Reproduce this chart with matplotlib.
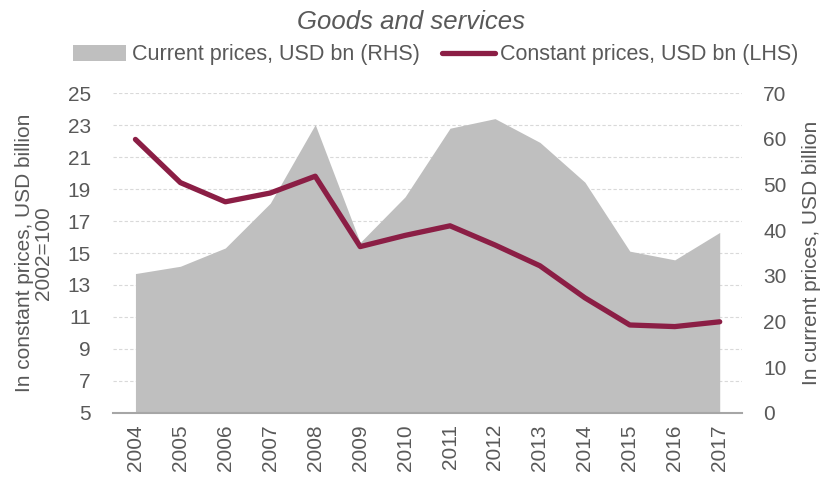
import numpy as np
import matplotlib.pyplot as plt
from matplotlib.patches import Patch
from matplotlib.lines import Line2D

plt.rcParams['font.family'] = ['Liberation Sans', 'DejaVu Sans']

years = ['2004', '2005', '2006', '2007', '2008', '2009', '2010',
         '2011', '2012', '2013', '2014', '2015', '2016', '2017']
# constant prices, USD bn (left axis)
constant = [22.1, 19.4, 18.2, 18.75, 19.8, 15.4, 16.1,
            16.7, 15.5, 14.2, 12.2, 10.5, 10.4, 10.7]
# current prices, USD bn (right axis)
current = [30.5, 32.1, 36.1, 45.9, 63.1, 37.3, 47.3,
           62.3, 64.4, 59.2, 50.5, 35.4, 33.5, 39.5]

txt = '#595959'
maroon = '#8B1E45'
grey = '#BFBFBF'
fs = 15

fig = plt.figure(figsize=(8.21, 4.82), dpi=100)
ax = fig.add_axes([0.1376, 0.1432, 0.7664, 0.6638])
ax2 = ax.twinx()

x = np.arange(len(years))

# area on the right axis, drawn behind the line
ax2.fill_between(x, 0, current, color=grey, linewidth=0, zorder=1)
ax2.set_ylim(0, 70)
ax2.set_yticks(np.arange(0, 71, 10))

ax.set_zorder(ax2.get_zorder() + 1)
ax.patch.set_visible(False)
ax.plot(x, constant, color=maroon, linewidth=3.8, solid_capstyle='round', zorder=3)
ax.set_ylim(5, 25)
ax.set_yticks(np.arange(5, 26, 2))
ax.set_xlim(-0.5, 13.5)
ax.set_xticks(x)
ax.set_xticklabels(years, rotation=90)

# dashed grid lines behind the area
for v in np.arange(0, 71, 7):
    ax2.axhline(v, color='#D9D9D9', linewidth=0.8, linestyle=(0, (3, 2)), zorder=0)

for a in (ax, ax2):
    for s in a.spines.values():
        s.set_visible(False)
    a.tick_params(length=0, labelsize=fs, colors=txt)
ax.spines['bottom'].set_visible(True)
ax.spines['bottom'].set_color('#A6A6A6')
ax.spines['bottom'].set_linewidth(1.5)
ax.tick_params(axis='y', pad=16)
ax.tick_params(axis='x', pad=8)
ax2.tick_params(axis='y', pad=15)

ax.set_ylabel('In constant prices, USD billion\n2002=100', fontsize=fs, color=txt,
              linespacing=1.0)
ax.yaxis.set_label_coords(-0.095, 0.5)
ax2.set_ylabel('In current prices, USD billion', fontsize=fs, color=txt)
ax2.yaxis.set_label_coords(1.095, 0.5)

fig.text(0.5, 0.955, 'Goods and services', ha='center', va='center',
         fontsize=18.5, style='italic', color=txt)

handles = [Patch(facecolor=grey, edgecolor='none'),
           Line2D([0], [0], color=maroon, linewidth=3.8, solid_capstyle='round')]
labels = ['Current prices, USD bn (RHS)', 'Constant prices, USD bn (LHS)']
fig.legend(handles, labels, loc='center', bbox_to_anchor=(0.531, 0.886), ncol=2,
           frameon=False, fontsize=15.5, labelcolor=txt, handlelength=2.45,
           handletextpad=0.25, columnspacing=1.05, handleheight=0.75)

fig.savefig('out.png', dpi=100)
